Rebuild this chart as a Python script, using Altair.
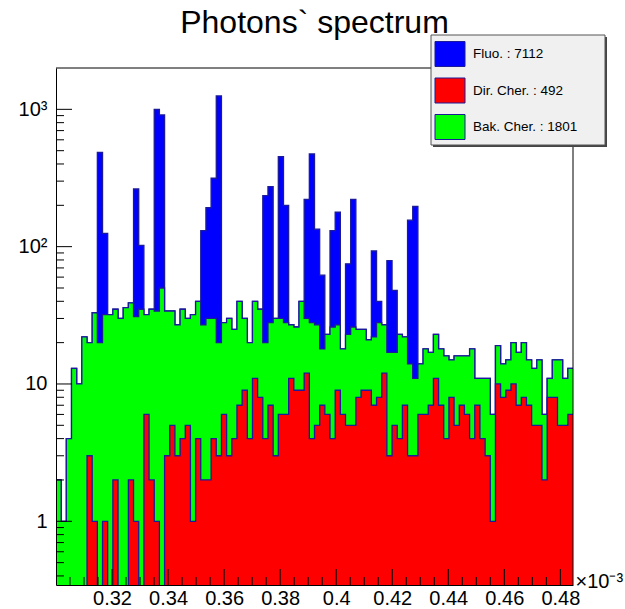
import altair as alt
import pandas as pd

# ---- data (counts per bin, 100 bins) ----
XMIN, XMAX = 0.3, 0.48451
NBINS = 100
YMIN, YMAX = 0.3436, 2000.0

fluo = [0, 0, 0, 0, 0, 0, 0, 0, 465, 93,
        0, 0, 0, 0, 0, 232, 67, 0, 0, 966,
        860, 0, 0, 0, 0, 0, 0, 0, 104, 162,
        285, 1232, 0, 0, 0, 0, 0, 0, 0, 0,
        215, 246, 0, 423, 172, 0, 0, 0, 191, 445,
        107, 44, 0, 105, 151, 0, 52, 195, 0, 0,
        0, 71, 12, 0, 62, 31, 0, 0, 142, 185,
        0, 0, 0, 0, 0, 0, 0, 0, 0, 0,
        0, 0, 0, 0, 0, 0, 0, 0, 0, 0,
        0, 0, 0, 0, 0, 0, 0, 0, 0, 0]

dirch = [0, 0, 0, 0, 0, 0, 3, 1, 0, 1,
         0, 2, 0, 0, 2, 1, 0, 6, 2, 1,
         0, 3, 5, 3, 4, 5, 1, 4, 2, 2,
         4, 3, 6, 3, 4, 7, 9, 4, 11, 8,
         4, 7, 3, 6, 6, 11, 9, 9, 12, 4,
         5, 7, 6, 4, 9, 6, 5, 5, 8, 9,
         9, 7, 8, 12, 3, 5, 4, 7, 3, 3,
         6, 6, 7, 11, 7, 4, 8, 5, 7, 6,
         4, 7, 4, 3, 1, 10, 8, 9, 10, 7,
         8, 7, 5, 5, 2, 8, 8, 5, 5, 6]

bakch = [2, 1, 4, 13, 10, 22, 17, 32, 20, 31,
         32, 33, 30, 36, 37, 30, 35, 26, 33, 33,
         50, 31, 29, 24, 31, 25, 31, 36, 25, 28,
         26, 17, 22, 27, 21, 33, 21, 16, 29, 27,
         16, 21, 27, 24, 22, 16, 17, 31, 18, 24,
         22, 11, 17, 22, 18, 12, 18, 21, 17, 16,
         12, 15, 20, 15, 14, 12, 19, 15, 11, 8,
         8, 12, 10, 12, 11, 12, 7, 11, 9, 10,
         14, 4, 7, 8, 5, 9, 6, 6, 10, 10,
         12, 8, 8, 10, 4, 3, 7, 10, 6, 7]

LABELS = ["Fluo. : 7112", "Dir. Cher. : 492", "Bak. Cher. : 1801"]
COLORS = ["#0000ff", "#ff0000", "#00ff00"]
NAVY = "#1a1a9a"

XMAJ = [0.32, 0.34, 0.36, 0.38, 0.40, 0.42, 0.44, 0.46, 0.48]
XMINOR = [round(0.305 + 0.005 * i, 3) for i in range(36) if i % 4 != 3]
YMAJ = [1, 10, 100, 1000]
YMINOR = [0.4, 0.5, 0.6, 0.7, 0.8, 0.9,
          2, 3, 4, 5, 6, 7, 8, 9,
          20, 30, 40, 50, 60, 70, 80, 90,
          200, 300, 400, 500, 600, 700, 800, 900]

W, H = 517, 517
F = "Liberation Sans"

# legend box (pixels relative to plot origin)
LX0, LX1, LY0, LY1 = 375, 549, -33, 77

# ---- build stacked step tables ----
bw = (XMAX - XMIN) / NBINS
edges = [XMIN + k * bw for k in range(NBINS + 1)]
cum_red = list(dirch)
cum_green = [r + g for r, g in zip(dirch, bakch)]
cum_all = [r + g + b for r, g, b in zip(dirch, bakch, fluo)]


def table(vals, name):
    rows = []
    for k in range(NBINS + 1):
        v = vals[min(k, NBINS - 1)]
        rows.append({"x": edges[k], "v": v if v > 0 else 0.01,
                     "base": YMIN, "series": name})
    return pd.DataFrame(rows)


xs = alt.Scale(domain=[XMIN, XMAX], nice=False, zero=False)
ys = alt.Scale(type="log", domain=[YMIN, YMAX], nice=False)
cs = alt.Scale(domain=LABELS, range=COLORS)

xaxis = alt.Axis(values=XMAJ, format="~g", tickSize=0, labelFont=F, labelFontSize=20,
                 labelColor="black", labelPadding=3, domainColor="black", domainWidth=1,
                 grid=False, title="×10⁻³", titleFont=F, titleFontSize=20,
                 titleFontWeight="normal", titleColor="black", titleX=W + 2, titleY=2,
                 titleAlign="left", titleBaseline="alphabetic", zindex=1,
                 labelFlush=False, labelOverlap=False)
yaxis = alt.Axis(values=YMAJ,
                 labelExpr="datum.value >= 999 ? '10³' : datum.value >= 99 ? '10²' : datum.value >= 9 ? '10' : '1'",
                 tickSize=0, labelPadding=9, labelFont=F, labelFontSize=20, labelColor="black",
                 domainColor="black", domainWidth=1, grid=False, title="", zindex=1,
                 labelOverlap=False, labelFlush=False)

leg = alt.Legend(orient="none", legendX=LX0, legendY=LY0, title=None,
                 symbolType="M-1.2,-1H1.2V1H-1.2Z", symbolSize=625,
                 symbolStrokeColor=NAVY, symbolStrokeWidth=1, symbolOpacity=1,
                 labelFont=F, labelFontSize=13.5, labelColor="black", labelOffset=10,
                 labelLimit=400, rowPadding=6.5, padding=6,
                 fillColor="transparent", strokeColor="transparent", zindex=2)


def area(df):
    return alt.Chart(df).mark_area(interpolate="step-after", clip=True, opacity=1).encode(
        x=alt.X("x:Q", scale=xs, axis=xaxis),
        y=alt.Y("v:Q", scale=ys, axis=yaxis),
        y2="base:Q",
        color=alt.Color("series:N", scale=cs, legend=leg),
    )


def outline(df):
    return alt.Chart(df).mark_line(interpolate="step-after", clip=True, color=NAVY,
                                   strokeWidth=1.3).encode(
        x=alt.X("x:Q", scale=xs, axis=xaxis),
        y=alt.Y("v:Q", scale=ys, axis=yaxis),
    )


t_all = table(cum_all, LABELS[0])
t_grn = table(cum_green, LABELS[2])
t_red = table(cum_red, LABELS[1])

layers = [area(t_all), outline(t_all), area(t_grn), outline(t_grn),
          area(t_red), outline(t_red)]

# inner ticks
layers.append(alt.Chart(pd.DataFrame({"x": XMAJ})).mark_rule(color="black").encode(
    x=alt.X("x:Q", scale=xs, axis=xaxis), y=alt.value(H), y2=alt.value(H - 16)))
layers.append(alt.Chart(pd.DataFrame({"x": XMINOR})).mark_rule(color="black").encode(
    x=alt.X("x:Q", scale=xs, axis=xaxis), y=alt.value(H), y2=alt.value(H - 8)))
layers.append(alt.Chart(pd.DataFrame({"v": YMAJ})).mark_rule(color="black").encode(
    y=alt.Y("v:Q", scale=ys, axis=yaxis), x=alt.value(0), x2=alt.value(16)))
layers.append(alt.Chart(pd.DataFrame({"v": YMINOR})).mark_rule(color="black").encode(
    y=alt.Y("v:Q", scale=ys, axis=yaxis), x=alt.value(0), x2=alt.value(8)))

# top and right frame
one = pd.DataFrame({"a": [0]})
layers.append(alt.Chart(one).mark_rule(color="black").encode(
    x=alt.value(0), x2=alt.value(W), y=alt.value(0)))
layers.append(alt.Chart(one).mark_rule(color="black").encode(
    x=alt.value(W), y=alt.value(0), y2=alt.value(H)))

# legend box with shadow
layers.append(alt.Chart(one).mark_rect(color="#444444", clip=False).encode(
    x=alt.value(LX0 + 2), x2=alt.value(LX1 + 2), y=alt.value(LY0 + 2), y2=alt.value(LY1 + 2)))
layers.append(alt.Chart(one).mark_rect(fill="#f0f0f0", stroke="#555555", strokeWidth=1,
                                       clip=False).encode(
    x=alt.value(LX0), x2=alt.value(LX1), y=alt.value(LY0), y2=alt.value(LY1)))

chart = alt.layer(*layers).properties(
    width=W, height=H,
    title=alt.Title("Photons` spectrum", font=F, fontSize=32, fontWeight="normal",
                    color="black", anchor="middle", frame="group", offset=0, dy=30,
                    baseline="alphabetic"),
    padding={"left": 56, "top": 68, "right": 52, "bottom": 24},
    autosize=alt.AutoSizeParams(type="none"),
    background="white",
).configure_view(stroke="transparent")

chart.save("out.html", embed_options={"renderer": "svg", "actions": False})
